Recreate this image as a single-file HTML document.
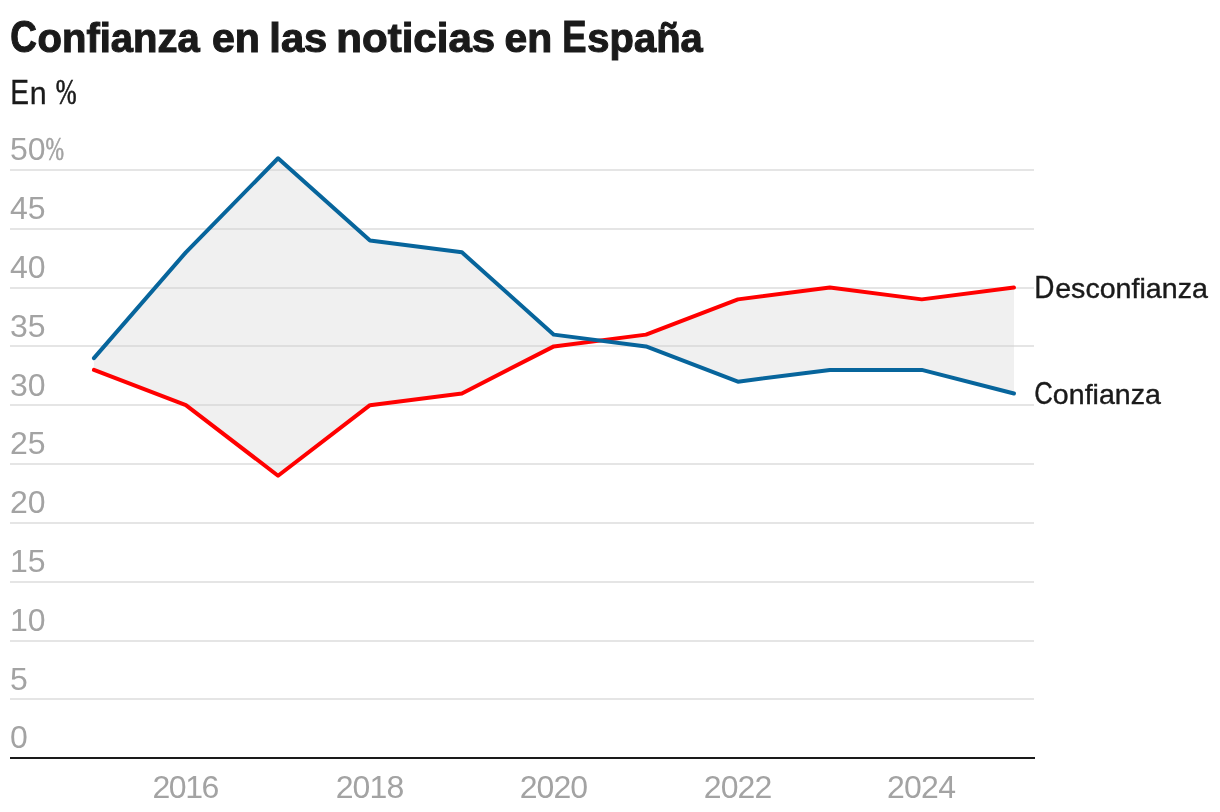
<!DOCTYPE html>
<html lang="es"><head><meta charset="utf-8"><title>Confianza en las noticias en España</title>
<style>
html,body{margin:0;padding:0;background:#fff;}
body{width:1220px;height:812px;overflow:hidden;}
svg{display:block;will-change:transform;}
.title{font-family:"Liberation Sans",Arial,sans-serif;font-size:41.5px;font-weight:bold;fill:#1a1a1a;stroke:#1a1a1a;stroke-width:1.1px}
.sub{font-family:"Liberation Sans",Arial,sans-serif;font-size:35px;fill:#1a1a1a;stroke:#1a1a1a;stroke-width:0.3px}
.lab{font-family:"Liberation Sans",Arial,sans-serif;font-size:30px;fill:#1a1a1a;stroke:#1a1a1a;stroke-width:0.4px}
.tick{font-family:"Liberation Sans",Arial,sans-serif;font-size:32px;fill:#a3a3a3}
.grid rect{fill:#cecece;fill-opacity:0.53;}
</style></head>
<body>
<svg width="1220" height="812" viewBox="0 0 1220 812" role="img" aria-label="Confianza en las noticias en España">
<text class="title" y="52"><tspan x="10.18" textLength="26.62" lengthAdjust="spacingAndGlyphs" style="font-size:44.5px;">C</tspan><tspan x="37.61" textLength="162.11" lengthAdjust="spacingAndGlyphs">onfianza</tspan> <tspan x="211.97" textLength="47.98" lengthAdjust="spacingAndGlyphs">en</tspan> <tspan x="269.30" textLength="58.06" lengthAdjust="spacingAndGlyphs">las</tspan> <tspan x="336.24" textLength="158.98" lengthAdjust="spacingAndGlyphs">noticias</tspan> <tspan x="504.60" textLength="47.65" lengthAdjust="spacingAndGlyphs">en</tspan> <tspan x="562.28" textLength="24.27" lengthAdjust="spacingAndGlyphs" style="font-size:44.5px;">E</tspan><tspan x="587.35" textLength="115.43" lengthAdjust="spacingAndGlyphs">spaña</tspan></text>
<text class="sub" y="104"><tspan x="10.25" textLength="18.80" lengthAdjust="spacingAndGlyphs">E</tspan><tspan x="29.84" textLength="16.93" lengthAdjust="spacingAndGlyphs" style="font-size:31.5px;">n</tspan> <tspan x="55.63" textLength="20.84" lengthAdjust="spacingAndGlyphs" style="font-size:36.5px;font-family:'Liberation Serif',serif;stroke-width:0.7px;">%</tspan></text>
<polygon points="93.95,358.16 185.87,252.32 278.05,158.24 369.98,240.56 461.90,252.32 553.82,334.64 646.00,346.40 737.92,381.68 829.85,369.92 921.77,369.92 1013.95,393.44 1013.95,287.60 921.77,299.36 829.85,287.60 737.92,299.36 646.00,334.64 553.82,346.40 461.90,393.44 369.98,405.20 278.05,475.76 185.87,405.20 93.95,369.92" fill="#f0f0f0"/>
<g class="grid"><rect x="10" y="169" width="1024" height="2"/><rect x="10" y="228" width="1024" height="2"/><rect x="10" y="287" width="1024" height="2"/><rect x="10" y="345" width="1024" height="2"/><rect x="10" y="404" width="1024" height="2"/><rect x="10" y="463" width="1024" height="2"/><rect x="10" y="522" width="1024" height="2"/><rect x="10" y="581" width="1024" height="2"/><rect x="10" y="640" width="1024" height="2"/><rect x="10" y="698" width="1024" height="2"/></g>
<rect x="10" y="757" width="1025" height="2" fill="#1a1a1a"/>
<g><text class="tick" y="160.3"><tspan x="10.00">50</tspan><tspan x="45.39" textLength="18.54" lengthAdjust="spacingAndGlyphs" style="font-size:33px;font-family:'Liberation Serif',serif;stroke:#a3a3a3;stroke-width:0.6px;">%</tspan></text><text class="tick" x="10.00" y="219.1">45</text><text class="tick" x="10.00" y="277.9">40</text><text class="tick" x="10.00" y="336.7">35</text><text class="tick" x="10.00" y="395.5">30</text><text class="tick" x="10.00" y="454.3">25</text><text class="tick" x="10.00" y="513.1">20</text><text class="tick" x="10.00" y="571.9">15</text><text class="tick" x="10.00" y="630.7">10</text><text class="tick" x="10.00" y="689.5">5</text><text class="tick" x="10.00" y="748.3">0</text><text class="tick" x="152.44" y="798" textLength="66.91" lengthAdjust="spacing">2016</text><text class="tick" x="335.66" y="798" textLength="68.62" lengthAdjust="spacing">2018</text><text class="tick" x="519.68" y="798" textLength="68.40" lengthAdjust="spacing">2020</text><text class="tick" x="703.69" y="798" textLength="68.67" lengthAdjust="spacing">2022</text><text class="tick" x="887.03" y="798" textLength="68.92" lengthAdjust="spacing">2024</text></g>
<polyline points="93.95,369.92 185.87,405.20 278.05,475.76 369.98,405.20 461.90,393.44 553.82,346.40 646.00,334.64 737.92,299.36 829.85,287.60 921.77,299.36 1013.95,287.60" fill="none" stroke="#ff0000" stroke-width="4" stroke-linejoin="round" stroke-linecap="round"/>
<polyline points="93.95,358.16 185.87,252.32 278.05,158.24 369.98,240.56 461.90,252.32 553.82,334.64 646.00,346.40 737.92,381.68 829.85,369.92 921.77,369.92 1013.95,393.44" fill="none" stroke="#07659c" stroke-width="4" stroke-linejoin="round" stroke-linecap="round"/>
<text class="lab" y="298"><tspan x="1034.14" textLength="20.16" lengthAdjust="spacingAndGlyphs" style="font-size:31px;">D</tspan><tspan x="1055.17" textLength="152.71" lengthAdjust="spacingAndGlyphs" style="font-size:28px;">esconfianza</tspan></text>
<text class="lab" y="404"><tspan x="1034.14" textLength="18.55" lengthAdjust="spacingAndGlyphs" style="font-size:31px;">C</tspan><tspan x="1052.89" textLength="107.94" lengthAdjust="spacingAndGlyphs" style="font-size:28px;">onfianza</tspan></text>
</svg>
</body></html>
